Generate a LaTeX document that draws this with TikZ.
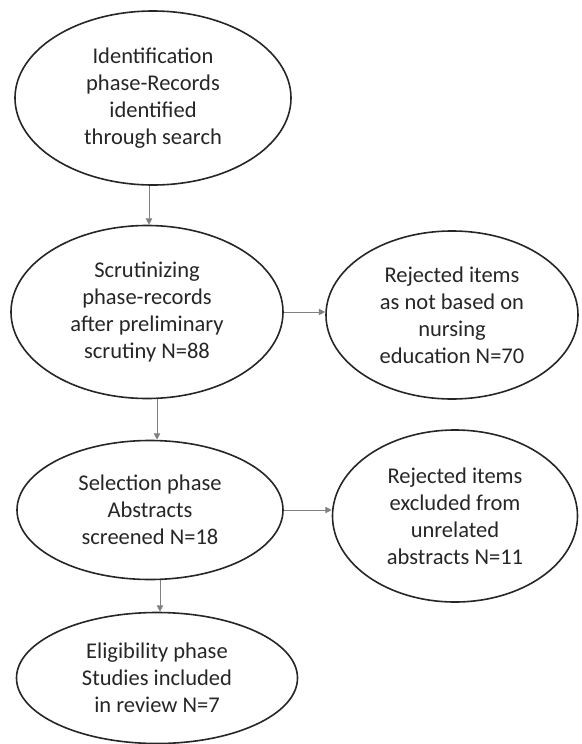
\documentclass[tikz,border=0pt]{standalone}
\usepackage{fontspec}
\setmainfont{Carlito}
\usetikzlibrary{arrows.meta,shapes.geometric}
\tikzset{
  arr/.style={line width=0.9pt, draw=black!50, -{Triangle[length=2.2mm, width=2.2mm]}},
  phase/.style={draw=black!85, ellipse, line width=1.6pt, inner sep=0pt, align=center,
    text=black!85, font=\fontsize{22.5}{27}\selectfont},
}
\def\xL{153}
\def\xR{452}

\begin{document}
\begin{tikzpicture}[x=1pt, y=-1pt]
\useasboundingbox (0,0) rectangle (581,744);

\node[phase, minimum width=276pt, minimum height=174pt] (ident) at (\xL,98) {Identification\\phase-Records\\identified\\through search};
\node[phase, minimum width=272pt, minimum height=173pt] (scrut) at (147,312) {Scrutinizing\\phase-records\\after preliminary\\scrutiny N=88};
\node[phase, minimum width=252pt, minimum height=168pt] (rejA) at (\xR,315) {Rejected items\\as not based on\\nursing\\education N=70};
\node[phase, minimum width=266pt, minimum height=139pt] (select) at (150,510) {Selection phase\\Abstracts\\screened N=18};
\node[phase, minimum width=245pt, minimum height=172pt] (rejB) at (455,516) {Rejected items\\excluded from\\unrelated\\abstracts N=11};
\node[phase, minimum width=281pt, minimum height=131pt] (elig) at (157,678) {Eligibility phase\\Studies included\\in review N=7};

\draw[arr] (149,0 |- ident.south) -- (149,0 |- scrut.north);
\draw[arr] (scrut.east) -- (scrut.east -| rejA.west);
\draw[arr] (157,0 |- scrut.south) -- (157,0 |- select.north);
\draw[arr] (select.east) -- (select.east -| rejB.west);
\draw[arr] (160,0 |- select.south) -- (160,0 |- elig.north);

\end{tikzpicture}
\end{document}
